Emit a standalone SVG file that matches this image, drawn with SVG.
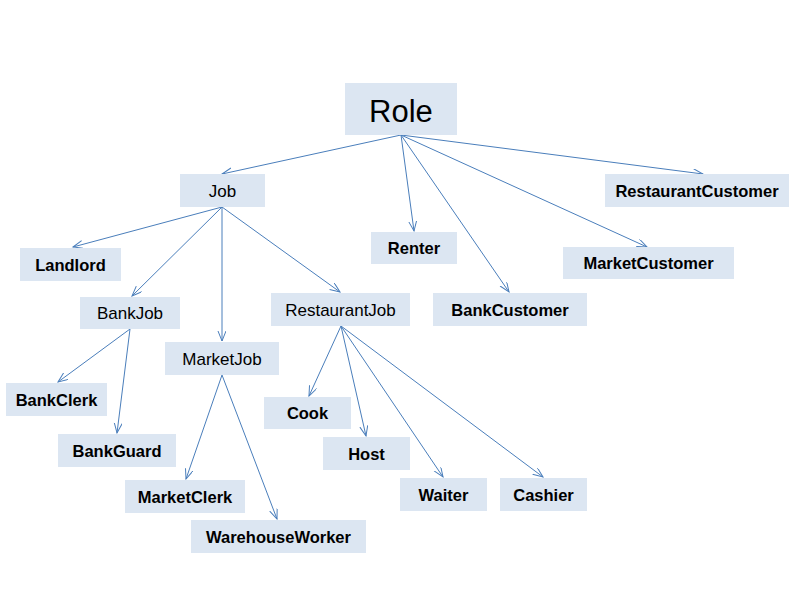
<svg xmlns="http://www.w3.org/2000/svg" width="800" height="600" viewBox="0 0 800 600">
<defs>
<style>
.box{fill:#dce6f2}
.t{font-family:"Liberation Sans",Arial,sans-serif;font-size:16.5px;font-weight:bold;fill:#000;text-anchor:middle}
.r{font-family:"Liberation Sans",Arial,sans-serif;font-size:17px;fill:#000;text-anchor:middle}
.c line{stroke:#4a7ebb;stroke-width:1;marker-end:url(#a)}
</style>
<marker id="a" markerUnits="userSpaceOnUse" markerWidth="12" markerHeight="10" refX="10" refY="4" orient="auto">
<path d="M0,0 L10,4 L0,8" fill="none" stroke="#4a7ebb" stroke-width="1"/>
</marker>
</defs>
<rect width="800" height="600" fill="#fff"/>
<g id="connectors" class="c">
<line x1="401" y1="135" x2="222" y2="174"/>
<line x1="401" y1="135" x2="414" y2="231"/>
<line x1="401" y1="135" x2="509" y2="292"/>
<line x1="401" y1="135" x2="647" y2="247"/>
<line x1="401" y1="135" x2="703" y2="174"/>
<line x1="222" y1="207" x2="73" y2="247"/>
<line x1="222" y1="207" x2="132" y2="296"/>
<line x1="222" y1="207" x2="222" y2="341"/>
<line x1="222" y1="207" x2="340" y2="292"/>
<line x1="130" y1="329" x2="58" y2="382"/>
<line x1="130" y1="329" x2="117" y2="433"/>
<line x1="222" y1="375" x2="186" y2="479"/>
<line x1="222" y1="375" x2="277" y2="519"/>
<line x1="341" y1="326" x2="309" y2="396"/>
<line x1="341" y1="326" x2="366" y2="436"/>
<line x1="341" y1="326" x2="443" y2="477"/>
<line x1="341" y1="326" x2="543" y2="477"/>
</g>
<g id="role"><rect class="box" x="345" y="83" width="112" height="52"/><text x="401" y="122" font-family="Liberation Sans,Arial,sans-serif" font-size="31" text-anchor="middle">Role</text></g>
<g id="job"><rect class="box" x="180" y="174" width="85" height="33"/><text class="r" x="222.5" y="196.5">Job</text></g>
<g id="renter"><rect class="box" x="371" y="232" width="86" height="32"/><text class="t" x="414" y="254">Renter</text></g>
<g id="restaurantcustomer"><rect class="box" x="605" y="174" width="184" height="33"/><text class="t" x="697" y="196.5">RestaurantCustomer</text></g>
<g id="marketcustomer"><rect class="box" x="563" y="247" width="171" height="32"/><text class="t" x="648.5" y="269">MarketCustomer</text></g>
<g id="bankcustomer"><rect class="box" x="433" y="293" width="154" height="33"/><text class="t" x="510" y="315.5">BankCustomer</text></g>
<g id="landlord"><rect class="box" x="20" y="248" width="101" height="33"/><text class="t" x="70.5" y="270.5">Landlord</text></g>
<g id="bankjob"><rect class="box" x="80" y="297" width="100" height="32"/><text class="r" x="130" y="319">BankJob</text></g>
<g id="marketjob"><rect class="box" x="165" y="342" width="114" height="33"/><text class="r" x="222" y="364.5">MarketJob</text></g>
<g id="restaurantjob"><rect class="box" x="271" y="293" width="139" height="33"/><text class="r" x="340.5" y="315.5">RestaurantJob</text></g>
<g id="bankclerk"><rect class="box" x="6" y="383" width="101" height="33"/><text class="t" x="56.5" y="405.5">BankClerk</text></g>
<g id="bankguard"><rect class="box" x="58" y="434" width="118" height="33"/><text class="t" x="117" y="456.5">BankGuard</text></g>
<g id="marketclerk"><rect class="box" x="125" y="480" width="120" height="33"/><text class="t" x="185" y="502.5">MarketClerk</text></g>
<g id="warehouseworker"><rect class="box" x="191" y="520" width="175" height="33"/><text class="t" x="278.5" y="542.5">WarehouseWorker</text></g>
<g id="cook"><rect class="box" x="264" y="397" width="87" height="32"/><text class="t" x="307.5" y="419">Cook</text></g>
<g id="host"><rect class="box" x="323" y="437" width="87" height="33"/><text class="t" x="366.5" y="459.5">Host</text></g>
<g id="waiter"><rect class="box" x="400" y="478" width="87" height="33"/><text class="t" x="443.5" y="500.5">Waiter</text></g>
<g id="cashier"><rect class="box" x="500" y="478" width="87" height="33"/><text class="t" x="543.5" y="500.5">Cashier</text></g>
</svg>
